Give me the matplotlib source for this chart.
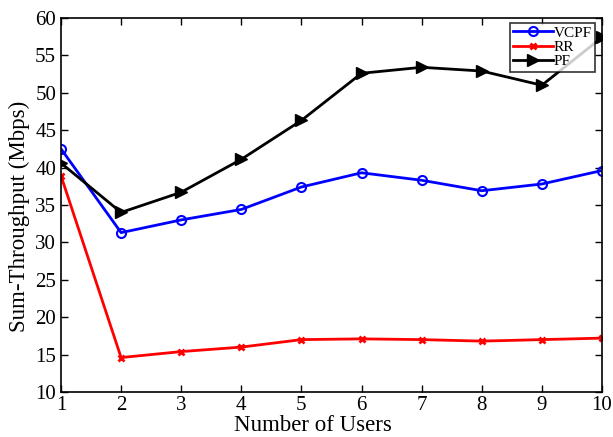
import matplotlib
matplotlib.use('Agg')
from matplotlib import pyplot as plt

# Number of users and sum-throughput for each scheduler
users = [1, 2, 3, 4, 5, 6, 7, 8, 9, 10]
vcpf = [42.5, 31.3, 33.0, 34.4, 37.4, 39.3, 38.3, 36.9, 37.8, 39.6]
rr = [38.9, 14.6, 15.4, 16.0, 17.0, 17.1, 17.0, 16.8, 17.0, 17.2]
pf = [40.6, 34.0, 36.7, 41.1, 46.3, 52.6, 53.4, 52.9, 51.0, 57.4]

plt.rcParams['font.family'] = ['Liberation Serif', 'DejaVu Serif']

fig = plt.figure(figsize=(6.13, 4.37), dpi=100)
ax = fig.add_axes([0.0995, 0.103, 0.8825, 0.856])

ax.plot(users, vcpf, color='blue', linewidth=2, marker='o', markersize=6.5,
        markerfacecolor='none', markeredgewidth=1.5, label='VCPF')
ax.plot(users, rr, color='red', linewidth=2, marker='x', markersize=4,
        markeredgewidth=2, label='RR')
ax.plot(users, pf, color='black', linewidth=2, marker='>', markersize=8.5,
        label='PF')

ax.set_xlim(1, 10)
ax.set_ylim(10, 60)
ax.set_xticks(range(1, 11))
ax.set_yticks(range(10, 61, 5))
ax.tick_params(direction='in', top=True, right=True, labelsize=15, length=5, width=1)
ax.tick_params(axis='x', pad=3)
for s in ax.spines.values():
    s.set_linewidth(1.2)

ax.set_xlabel('Number of Users', fontsize=16.5)
ax.set_ylabel('Sum-Throughput (Mbps)', fontsize=16.5)
ax.xaxis.set_label_coords(0.465, -0.062)
ax.yaxis.set_label_coords(-0.058, 0.469)

leg = ax.legend(loc='upper right', bbox_to_anchor=(0.987, 0.987), borderaxespad=0,
                fontsize=11, frameon=True, fancybox=False, edgecolor='black',
                borderpad=0.2, labelspacing=0.05, handletextpad=0.05, handlelength=2.6)
leg.get_frame().set_linewidth(1.2)

fig.savefig('out.png', dpi=100)
